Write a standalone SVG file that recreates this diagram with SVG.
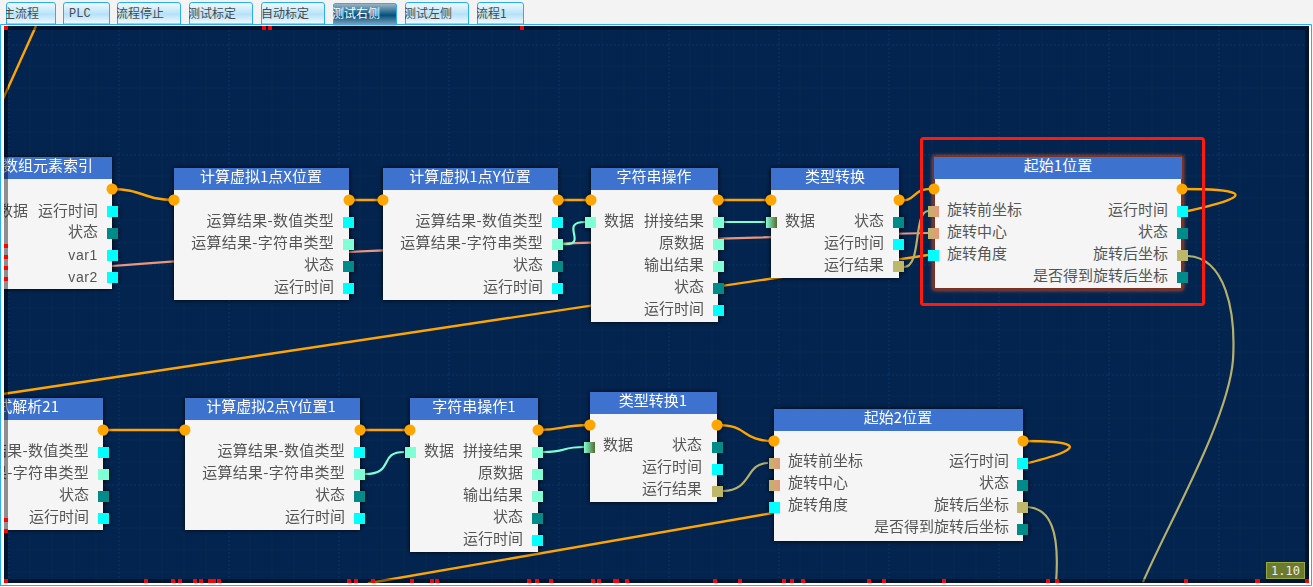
<svg xmlns="http://www.w3.org/2000/svg" width="1313" height="587" viewBox="0 0 1313 587">
<style>
text{font-family:"Noto Sans CJK SC","Liberation Sans",sans-serif}
.b{fill:#f5f5f5}.h{fill:#3d73cf}
.t{fill:#fff;font-size:15px;text-anchor:middle}
.te{fill:#fff;font-size:15px;text-anchor:end}
.r{fill:#555;font-size:15px;text-anchor:end}
.w{letter-spacing:.25px}
.v{font-family:"Liberation Sans",sans-serif;font-size:14px;letter-spacing:.6px}
.l{fill:#555;font-size:15px}
.c{fill:#ffa500}.cy{fill:#0ff}.tl{fill:#008b8b}.aq{fill:#7fffd4}.kh{fill:#bdb76b}
.sa{fill:url(#ks)}.ad{fill:url(#ag)}
.tab{fill:url(#tg);stroke:#29aef5;stroke-width:1}
.tabt{fill:#4a4a4a;font-size:12px}
.o{fill:none;stroke:#ffa500;stroke-width:2.4}
.ka{fill:none;stroke:#b5b06c;stroke-width:2.2}
.am{fill:none;stroke:#7fffd4;stroke-width:2.2}
.s{fill:none;stroke:#e9967a;stroke-width:2.2}
.red{fill:#f00}
.n{filter:url(#sh)}
</style>
<defs>
<linearGradient id="tg" x1="0" y1="0" x2="0" y2="1"><stop offset="0" stop-color="#f4fbff"/><stop offset=".55" stop-color="#b5e2f8"/><stop offset="1" stop-color="#f4fbff"/></linearGradient>
<linearGradient id="ts" x1="0" y1="0" x2="0" y2="1"><stop offset="0" stop-color="#9fb9c8"/><stop offset=".55" stop-color="#04507f"/><stop offset="1" stop-color="#7fa6bc"/></linearGradient>
<linearGradient id="ks"><stop offset="0" stop-color="#bdb76b"/><stop offset="1" stop-color="#e9967a"/></linearGradient>
<linearGradient id="ag"><stop offset="0" stop-color="#7fffd4"/><stop offset="1" stop-color="#556b2f"/></linearGradient>
<pattern id="grid" x="8" y="44" width="110" height="110" patternUnits="userSpaceOnUse">
<path d="M22 0V110M44 0V110M66 0V110M88 0V110M0 22H110M0 44H110M0 66H110M0 88H110" stroke="#052750" stroke-width="1" fill="none"/>
<path d="M1 0V110M0 1H110" stroke="#082c59" stroke-width="2" stroke-dasharray="2 2" fill="none"/>
</pattern>
<filter id="sh" x="-10%" y="-10%" width="120%" height="120%"><feDropShadow dx="0" dy="0" stdDeviation="2.5" flood-color="#000" flood-opacity=".9"/></filter>
<filter id="rg" x="-10%" y="-10%" width="120%" height="120%"><feDropShadow dx="0" dy="0" stdDeviation="2" flood-color="#ff5a2a" flood-opacity=".9"/></filter>
<clipPath id="tc"><rect x="6" y="2" width="50" height="22"/><rect x="63" y="2" width="47" height="22"/><rect x="117" y="2" width="64" height="22"/><rect x="189" y="2" width="64" height="22"/><rect x="261" y="2" width="64" height="22"/><rect x="333" y="2" width="64" height="22"/><rect x="405" y="2" width="64" height="22"/><rect x="477" y="2" width="47" height="22"/></clipPath>
</defs>
<rect width="1313" height="587" fill="#f3f3f3"/>
<rect x="4" y="26" width="1305" height="557" fill="#03244f"/>
<rect x="4" y="26" width="1305" height="557" fill="url(#grid)"/>

<g id="connectors">
<path class="o" d="M36 26L3 99"/>
<path class="s" d="M112 266C300 251 600 241 928 233"/>
<path class="o" d="M3 394L928 255"/>
<path class="o" d="M368 583.300L774 512.800"/>
<path class="o" d="M112 189C142 189 144 200 174 200"/>
<path class="o" d="M349 200H383M558 200H591M718 200H771"/>
<path class="o" d="M899 200C916 203 912 187 934 189"/>
<path class="o" d="M1182 189C1231 189 1270 193 1188 211"/>
<path class="o" d="M103 430H185M360 430H410"/>
<path class="o" d="M538 430C565 430 560 425 590 425"/>
<path class="o" d="M717 425C750 425 740 441 774 441"/>
<path class="o" d="M1023 441C1066 441 1100 445 1028 463"/>
<path class="am" d="M563 244C590 246 558 222 585 222"/>
<path class="am" d="M723 222H765"/>
<path class="am" d="M365 474C395 474 378 452 404 452"/>
<path class="am" d="M543 452C568 452 560 447 584 447"/>
<path class="ka" d="M904 267C922 267 913 212 928 211"/>
<path class="ka" d="M723 491C752 491 745 463 768 463"/>
<path class="ka" d="M1188 256C1225 258 1236 310 1233 360C1228 420 1170 520 1143 582"/>
<path class="ka" d="M1028 507C1050 509 1060 530 1056 583"/>
</g>

<g id="n1" class="n"><rect class="b" x="0" y="157" width="112" height="132"/><rect class="h" x="0" y="157" width="112" height="22"/>
<text class="te" x="93" y="171">数组元素索引</text><text class="r" x="28" y="216">数据</text><text class="r" x="98" y="216">运行时间</text><text class="r" x="98" y="237">状态</text><text class="r v" x="98" y="260">var1</text><text class="r v" x="98" y="282">var2</text>
<circle class="c" cx="112" cy="189" r="5.5"/><rect class="cy" x="107" y="206" width="11" height="11"/><rect class="tl" x="107" y="228" width="11" height="11"/><rect class="cy" x="107" y="250" width="11" height="11"/><rect class="cy" x="107" y="272" width="11" height="11"/></g>

<g id="n2" class="n"><rect class="b" x="174" y="168" width="175" height="132"/><rect class="h" x="174" y="168" width="175" height="22"/>
<text class="t" x="261" y="182">计算虚拟1点X位置</text><text class="r w" x="334" y="226">运算结果-数值类型</text><text class="r w" x="334" y="248">运算结果-字符串类型</text><text class="r" x="334" y="270">状态</text><text class="r" x="334" y="292">运行时间</text>
<circle class="c" cx="174" cy="200" r="5.5"/><circle class="c" cx="349" cy="200" r="5.5"/><rect class="cy" x="343" y="217" width="11" height="11"/><rect class="aq" x="343" y="239" width="11" height="11"/><rect class="tl" x="343" y="261" width="11" height="11"/><rect class="cy" x="343" y="283" width="11" height="11"/></g>

<g id="n3" class="n"><rect class="b" x="383" y="168" width="175" height="132"/><rect class="h" x="383" y="168" width="175" height="22"/>
<text class="t" x="470" y="182">计算虚拟1点Y位置</text><text class="r w" x="543" y="226">运算结果-数值类型</text><text class="r w" x="543" y="248">运算结果-字符串类型</text><text class="r" x="543" y="270">状态</text><text class="r" x="543" y="292">运行时间</text>
<circle class="c" cx="383" cy="200" r="5.5"/><circle class="c" cx="558" cy="200" r="5.5"/><rect class="cy" x="552" y="217" width="11" height="11"/><rect class="aq" x="552" y="239" width="11" height="11"/><rect class="tl" x="552" y="261" width="11" height="11"/><rect class="cy" x="552" y="283" width="11" height="11"/></g>

<g id="n4" class="n"><rect class="b" x="591" y="168" width="127" height="154"/><rect class="h" x="591" y="168" width="127" height="22"/>
<text class="t" x="654" y="182">字符串操作</text><text class="l" x="604" y="226">数据</text><text class="r" x="704" y="226">拼接结果</text><text class="r" x="704" y="248">原数据</text><text class="r" x="704" y="270">输出结果</text><text class="r" x="704" y="292">状态</text><text class="r" x="704" y="314">运行时间</text>
<circle class="c" cx="591" cy="200" r="5.5"/><circle class="c" cx="718" cy="200" r="5.5"/><rect class="aq" x="585" y="217" width="11" height="11"/><rect class="aq" x="713" y="217" width="11" height="11"/><rect class="aq" x="713" y="239" width="11" height="11"/><rect class="aq" x="713" y="261" width="11" height="11"/><rect class="tl" x="713" y="283" width="11" height="11"/><rect class="cy" x="713" y="305" width="11" height="11"/></g>

<g id="n5" class="n"><rect class="b" x="771" y="168" width="128" height="110"/><rect class="h" x="771" y="168" width="128" height="22"/>
<text class="t" x="835" y="182">类型转换</text><text class="l" x="785" y="226">数据</text><text class="r" x="884" y="226">状态</text><text class="r" x="884" y="248">运行时间</text><text class="r" x="884" y="270">运行结果</text>
<circle class="c" cx="771" cy="200" r="5.5"/><circle class="c" cx="899" cy="200" r="5.5"/><rect class="ad" x="766" y="217" width="11" height="11"/><rect class="tl" x="893" y="217" width="11" height="11"/><rect class="cy" x="893" y="239" width="11" height="11"/><rect class="kh" x="893" y="261" width="11" height="11"/></g>

<g id="n6"><g filter="url(#rg)"><rect class="b" x="934" y="157" width="248" height="132" stroke="#7a3324" stroke-width="2"/></g><rect class="h" x="934" y="157" width="248" height="22"/>
<text class="t" x="1058" y="171">起始1位置</text><text class="l" x="947" y="215">旋转前坐标</text><text class="l" x="947" y="237">旋转中心</text><text class="l" x="947" y="259">旋转角度</text><text class="r" x="1168" y="215">运行时间</text><text class="r" x="1168" y="237">状态</text><text class="r" x="1168" y="259">旋转后坐标</text><text class="r" x="1168" y="281">是否得到旋转后坐标</text>
<circle class="c" cx="934" cy="189" r="5.5"/><circle class="c" cx="1182" cy="189" r="5.5"/><rect class="sa" x="928" y="206" width="11" height="11"/><rect class="sa" x="928" y="228" width="11" height="11"/><rect class="cy" x="928" y="250" width="11" height="11"/><rect class="cy" x="1177" y="206" width="11" height="11"/><rect class="tl" x="1177" y="228" width="11" height="11"/><rect class="kh" x="1177" y="250" width="11" height="11"/><rect class="tl" x="1177" y="272" width="11" height="11"/>
<rect x="921.500" y="138.500" width="282" height="166" rx="2" fill="none" stroke="#ff1a10" stroke-width="3"/></g>

<g id="n7" class="n"><rect class="b" x="0" y="398" width="103" height="132"/><rect class="h" x="0" y="398" width="103" height="22"/>
<text class="te" x="59" y="412">式解析21</text><text class="r w" x="89" y="456">运算结果-数值类型</text><text class="r w" x="89" y="478">运算结果-字符串类型</text><text class="r" x="89" y="500">状态</text><text class="r" x="89" y="522">运行时间</text>
<circle class="c" cx="103" cy="430" r="5.5"/><rect class="cy" x="98" y="447" width="11" height="11"/><rect class="aq" x="98" y="469" width="11" height="11"/><rect class="tl" x="98" y="491" width="11" height="11"/><rect class="cy" x="98" y="513" width="11" height="11"/></g>

<g id="n8" class="n"><rect class="b" x="185" y="398" width="175" height="132"/><rect class="h" x="185" y="398" width="175" height="22"/>
<text class="t" x="271" y="412">计算虚拟2点Y位置1</text><text class="r w" x="345" y="456">运算结果-数值类型</text><text class="r w" x="345" y="478">运算结果-字符串类型</text><text class="r" x="345" y="500">状态</text><text class="r" x="345" y="522">运行时间</text>
<circle class="c" cx="185" cy="430" r="5.5"/><circle class="c" cx="360" cy="430" r="5.5"/><rect class="cy" x="354" y="447" width="11" height="11"/><rect class="aq" x="354" y="469" width="11" height="11"/><rect class="tl" x="354" y="491" width="11" height="11"/><rect class="cy" x="354" y="513" width="11" height="11"/></g>

<g id="n9" class="n"><rect class="b" x="410" y="398" width="128" height="154"/><rect class="h" x="410" y="398" width="128" height="22"/>
<text class="t" x="474" y="412">字符串操作1</text><text class="l" x="424" y="456">数据</text><text class="r" x="523" y="456">拼接结果</text><text class="r" x="523" y="478">原数据</text><text class="r" x="523" y="500">输出结果</text><text class="r" x="523" y="522">状态</text><text class="r" x="523" y="544">运行时间</text>
<circle class="c" cx="410" cy="430" r="5.5"/><circle class="c" cx="538" cy="430" r="5.5"/><rect class="aq" x="405" y="447" width="11" height="11"/><rect class="aq" x="532" y="447" width="11" height="11"/><rect class="aq" x="532" y="469" width="11" height="11"/><rect class="aq" x="532" y="491" width="11" height="11"/><rect class="tl" x="532" y="513" width="11" height="11"/><rect class="cy" x="532" y="535" width="11" height="11"/></g>

<g id="n10" class="n"><rect class="b" x="590" y="392" width="127" height="110"/><rect class="h" x="590" y="392" width="127" height="22"/>
<text class="t" x="653" y="406">类型转换1</text><text class="l" x="603" y="450">数据</text><text class="r" x="702" y="450">状态</text><text class="r" x="702" y="472">运行时间</text><text class="r" x="702" y="494">运行结果</text>
<circle class="c" cx="590" cy="425" r="5.5"/><circle class="c" cx="717" cy="425" r="5.5"/><rect class="ad" x="584" y="442" width="11" height="11"/><rect class="tl" x="712" y="442" width="11" height="11"/><rect class="cy" x="712" y="464" width="11" height="11"/><rect class="kh" x="712" y="486" width="11" height="11"/></g>

<g id="n11" class="n"><rect class="b" x="774" y="409" width="249" height="132"/><rect class="h" x="774" y="409" width="249" height="22"/>
<text class="t" x="898" y="423">起始2位置</text><text class="l" x="788" y="466">旋转前坐标</text><text class="l" x="788" y="488">旋转中心</text><text class="l" x="788" y="510">旋转角度</text><text class="r" x="1009" y="466">运行时间</text><text class="r" x="1009" y="488">状态</text><text class="r" x="1009" y="510">旋转后坐标</text><text class="r" x="1009" y="532">是否得到旋转后坐标</text>
<circle class="c" cx="774" cy="441" r="5.5"/><circle class="c" cx="1023" cy="441" r="5.5"/><rect class="sa" x="769" y="458" width="11" height="11"/><rect class="sa" x="769" y="480" width="11" height="11"/><rect class="cy" x="769" y="502" width="11" height="11"/><rect class="cy" x="1017" y="458" width="11" height="11"/><rect class="tl" x="1017" y="480" width="11" height="11"/><rect class="kh" x="1017" y="502" width="11" height="11"/><rect class="tl" x="1017" y="524" width="11" height="11"/></g>

<g id="frame">
<path d="M4 26H1309V583H4ZM8 30V579H1305V30Z" fill="#000" fill-opacity=".42" fill-rule="evenodd"/>
<rect x="1" y="25" width="3" height="559" fill="#fff"/>
<rect x="1" y="25" width="1310" height="1" fill="#fff"/>
<rect x="1309" y="25" width="2" height="560" fill="#fff"/>
<rect x="1" y="583" width="1310" height="2" fill="#fff"/>
<path d="M.5 587V24.500H1311.500V585.500H0" fill="none" stroke="#29aef5"/>
<rect x="0" y="586" width="1313" height="1" fill="#fff"/>
<rect x="1312" y="24" width="1" height="563" fill="#f3f3f3"/>
<path class="red" d="M4 26h4v4h-4zM262 26h4v4h-4zM268 26h4v4h-4zM520 26h4v4h-4zM4 244h4v4h-4zM4 255h4v4h-4zM4 266h4v4h-4zM4 277h4v4h-4zM4 518h4v4h-4zM4 529h4v4h-4zM4 579h4v4h-4zM144 579h4v4h-4zM171 579h4v4h-4zM178 579h4v4h-4zM193 579h4v4h-4zM199 579h4v4h-4zM208 579h8v4h-8zM217 579h4v4h-4zM347 579h4v4h-4zM354 579h4v4h-4zM371 579h4v4h-4zM410 579h4v4h-4zM430 579h4v4h-4zM435 579h4v4h-4zM527 579h4v4h-4zM535 579h4v4h-4zM549 579h4v4h-4zM591 579h4v4h-4zM597 579h4v4h-4zM613 579h6v4h-6zM625 579h4v4h-4zM713 579h4v4h-4zM738 579h4v4h-4zM782 579h4v4h-4zM790 579h4v4h-4zM801 579h4v4h-4zM867 579h4v4h-4zM882 579h4v4h-4zM942 579h4v4h-4zM1046 579h4v4h-4zM1055 579h4v4h-4zM1184 579h4v4h-4zM1255 579h5v4h-5zM1305 579h4v4h-4z"/>
<rect x="1266.500" y="562.500" width="38" height="16" fill="#6b7a2c" stroke="#98a83a"/>
<text x="1285.500" y="575" fill="#eee" font-size="12" text-anchor="middle" style="font-family:'DejaVu Sans Mono',monospace">1.10</text>
</g>

<g id="tabs">
<path class="tab" d="M6.500 24V5Q6.500 2.500 9 2.500H53Q55.500 2.500 55.500 5V24Z"/>
<path class="tab" d="M63.500 24V5Q63.500 2.500 66 2.500H107Q109.500 2.500 109.500 5V24Z"/>
<path class="tab" d="M117.500 24V5Q117.500 2.500 120 2.500H178Q180.500 2.500 180.500 5V24Z"/>
<path class="tab" d="M189.500 24V5Q189.500 2.500 192 2.500H250Q252.500 2.500 252.500 5V24Z"/>
<path class="tab" d="M261.500 24V5Q261.500 2.500 264 2.500H322Q324.500 2.500 324.500 5V24Z"/>
<path class="tab" d="M333.500 25V5Q333.500 3.500 336 3.500H394Q396.500 3.500 396.500 5V25Z" style="fill:url(#ts)"/>
<path class="tab" d="M405.500 24V5Q405.500 2.500 408 2.500H466Q468.500 2.500 468.500 5V24Z"/>
<path class="tab" d="M477.500 24V5Q477.500 2.500 480 2.500H521Q523.500 2.500 523.500 5V24Z"/>
<g clip-path="url(#tc)">
<text class="tabt" x="3" y="18">主流程</text>
<text class="tabt" x="69" y="17" style="font-family:'Liberation Mono',monospace" font-size="10">PLC</text>
<text class="tabt" x="116" y="18">流程停止</text>
<text class="tabt" x="188" y="18">测试标定</text>
<text class="tabt" x="261" y="18">自动标定</text>
<text class="tabt" x="332" y="18" style="fill:#fff">测试右侧</text>
<text class="tabt" x="404" y="18">测试左侧</text>
<text class="tabt" x="476" y="18">流程1</text>
</g>
</g>
</svg>
